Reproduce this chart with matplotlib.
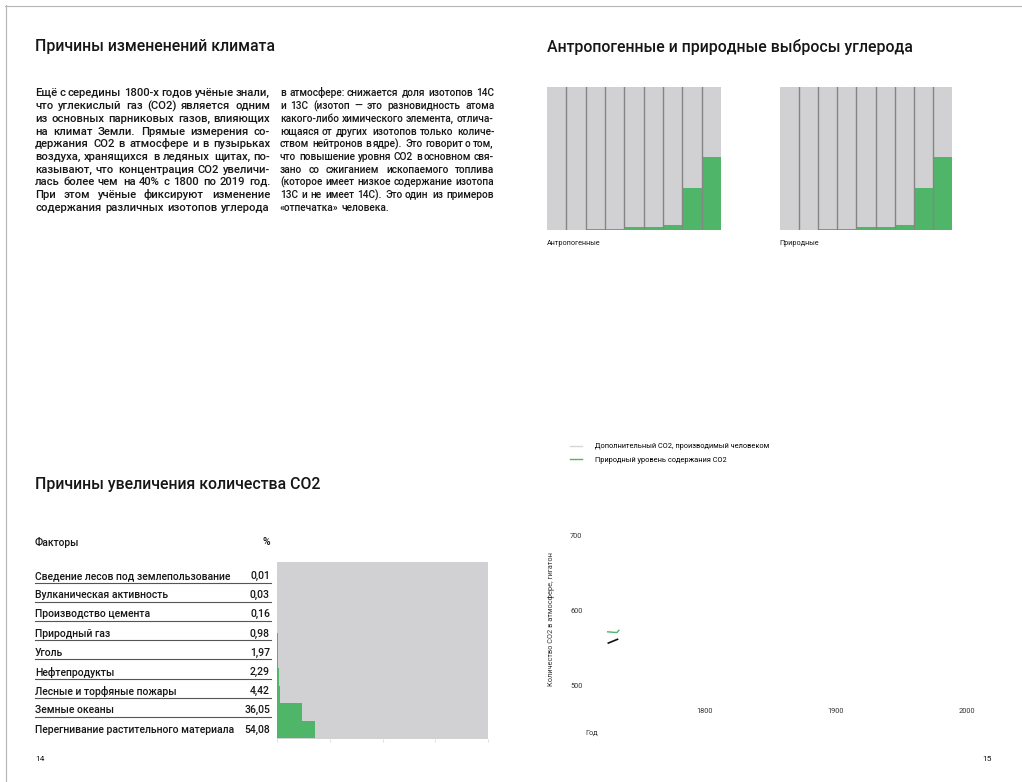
import math
import matplotlib
matplotlib.use("Agg")
import matplotlib.pyplot as plt
from matplotlib.lines import Line2D
from matplotlib.font_manager import FontProperties

# ---------------- data ----------------
title_left = "Причины измененений климата"
title_right = "Антропогенные и природные выбросы углерода"
title_bottom = "Причины увеличения количества CO2"

body_col1 = [
    "Ещё с середины 1800-х годов учёные знали,",
    "что углекислый газ (CO2) является одним",
    "из основных парниковых газов, влияющих",
    "на климат Земли. Прямые измерения со-",
    "держания CO2 в атмосфере и в пузырьках",
    "воздуха, хранящихся в ледяных щитах, по-",
    "казывают, что концентрация CO2 увеличи-",
    "лась более чем на 40% с 1800 по 2019 год.",
    "При этом учёные фиксируют изменение",
    "содержания различных изотопов углерода",
]
body_col2 = [
    "в атмосфере: снижается доля изотопов 14C",
    "и 13C (изотоп — это разновидность атома",
    "какого-либо химического элемента, отлича-",
    "ющаяся от других изотопов только количе-",
    "ством нейтронов в ядре). Это говорит о том,",
    "что повышение уровня CO2 в основном свя-",
    "зано со сжиганием ископаемого топлива",
    "(которое имеет низкое содержание изотопа",
    "13C и не имеет 14C). Это один из примеров",
    "«отпечатка» человека.",
]

emission_anthro = [0.2, 0.3, 0.6, 1.0, 1.9, 2.2, 3.6, 29.5, 51.0]
emission_natural = [0.2, 0.3, 0.6, 1.0, 1.9, 2.2, 3.6, 29.5, 51.0]
emission_full = 100
label_anthro = "Антропогенные"
label_natural = "Природные"

factors = [
    "Сведение лесов под землепользование",
    "Вулканическая активность",
    "Производство цемента",
    "Природный газ",
    "Уголь",
    "Нефтепродукты",
    "Лесные и торфяные пожары",
    "Земные океаны",
    "Перегнивание растительного материала",
]
factor_pct = [0.01, 0.03, 0.16, 0.98, 1.97, 2.29, 4.42, 36.05, 54.08]
factor_pct_labels = ["0,01", "0,03", "0,16", "0,98", "1,97", "2,29", "4,42", "36,05", "54,08"]
table_header = ["Факторы", "%"]
pct_ticks = [0, 75, 150, 225, 300]

co2_years_natural = [1726, 1733, 1734.5]
co2_natural = [571, 570, 573]
co2_years_black = [1726.5, 1733.5]
co2_black = [556, 561]
legend_labels = ["Дополнительный CO2, производимый человеком",
                 "Природный уровень содержания CO2"]
co2_xticks = [1800, 1900, 2000]
co2_yticks = [500, 600, 700]
co2_ylabel = "Количество CO2 в атмосфере, гигатон"
co2_xlabel = "Год"
page_numbers = ["14", "15"]

# ---------------- style ----------------
GREEN = "#4fb569"
GRAY = "#d1d1d3"
SEP = "#858585"
TXT = "#161616"
FONT = ["Roboto", "DejaVu Sans"]
plt.rcParams["font.family"] = FONT

W, H = 1022, 782
fig = plt.figure(figsize=(W / 100, H / 100), dpi=100)
fig.patch.set_facecolor("white")


def rect(x0, y0, x1, y1):
    return [x0 / W, 1 - y1 / H, (x1 - x0) / W, (y1 - y0) / H]


def fx(x):
    return x / W


def fy(y):
    return 1 - y / H


# page border (top and left)
fig.add_artist(Line2D([fx(5), fx(1022)], [fy(5.5), fy(5.5)], color="#b5b5b5", lw=0.8))
fig.add_artist(Line2D([fx(5.5), fx(5.5)], [fy(5), fy(782)], color="#b5b5b5", lw=0.8))

# titles
for t, x, y in [(title_left, 35, 47), (title_right, 547, 47), (title_bottom, 35, 484)]:
    fig.text(fx(x), fy(y), t, fontsize=11.4, color=TXT, va="center", ha="left",
             fontweight="medium")

# justified body text, one text per word
renderer = fig.canvas.get_renderer()


def word_metrics(word, size):
    prop = FontProperties(family=FONT, weight="medium", size=size)
    w, h, d = renderer.get_text_width_height_descent(word, prop, ismath=False)
    return w, h, d


def fit_size(lines, width, max_size):
    best = max_size
    for line in lines:
        words = line.split(" ")
        natural = sum(word_metrics(w, 10.0)[0] for w in words)
        natural += 0.22 * 10.0 * 100 / 72 * (len(words) - 1)
        best = min(best, 10.0 * width / natural)
    return best


def draw_lines(lines, x0, x1, y_start, dy, size, last_left=True):
    eps = 1e-6
    for i, line in enumerate(lines):
        base = round(y_start + i * dy) + 0.001
        words = line.split(" ")
        mets = [word_metrics(w, size) for w in words]
        widths = [m[0] for m in mets]
        is_last = (i == len(lines) - 1) and last_left
        if len(words) > 1 and not is_last:
            gap = (x1 - x0 - sum(widths)) / (len(words) - 1)
        else:
            gap = 0.28 * size * 100 / 72
        x = x0
        for word, (w, h, d) in zip(words, mets):
            # keep every word on the same pixel baseline
            k = math.floor(h + eps) - math.floor(h - d + eps)
            y = base + k - d
            fig.text(fx(round(x)), fy(y), word, fontsize=size, color=TXT, va="baseline",
                     ha="left", fontweight="medium")
            x += w + gap


size1 = fit_size(body_col1, 235, 8.2)
size2 = fit_size(body_col2, 214, 8.2)
draw_lines(body_col1, 35, 270, 96.5, 12.7, size1, last_left=False)
draw_lines(body_col2, 280, 494, 96.5, 12.7, size2, last_left=True)


# top-right bar charts
def emission_chart(box, values, label, lx):
    ax = fig.add_axes(rect(*box))
    n = len(values)
    xs = list(range(n))
    ax.bar(xs, [emission_full] * n, width=1.0, color=GRAY, linewidth=0, zorder=1)
    ax.bar(xs, values, width=1.0, color=GREEN, linewidth=0, zorder=2)
    for k in range(n - 1):
        ax.axvline(k + 0.5, color=SEP, lw=1.0, zorder=3)
    ax.set_xlim(-0.5, n - 0.5)
    ax.set_ylim(0, emission_full)
    ax.axis("off")
    fig.text(fx(lx), fy(243), label, fontsize=5.2, color=TXT, va="center", ha="left")


emission_chart((547, 87, 721, 230), emission_anthro, label_anthro, 547)
emission_chart((780, 87, 952, 230), emission_natural, label_natural, 779)

# table
fig.text(fx(35), fy(542), table_header[0], fontsize=7.4, color=TXT, va="center",
         fontweight="medium")
fig.text(fx(270), fy(542), table_header[1], fontsize=7.4, color=TXT, va="center", ha="right",
         fontweight="medium")
row_y0, row_dy = 576, 19.2
for i, (f, p) in enumerate(zip(factors, factor_pct_labels)):
    y = row_y0 + i * row_dy
    fig.text(fx(35), fy(y), f, fontsize=7.5, color=TXT, va="center", fontweight="medium")
    fig.text(fx(270), fy(y), p, fontsize=7.5, color=TXT, va="center", ha="right",
             fontweight="medium")
    if i < len(factors) - 1:
        yl = y + 6.5
        fig.add_artist(Line2D([fx(35), fx(271)], [fy(yl), fy(yl)], color="#555555", lw=0.8))

# horizontal bar chart
axb = fig.add_axes(rect(277, 562, 488, 739))
axb.set_facecolor(GRAY)
npos = len(factor_pct)
ypos = [npos - 1 - i for i in range(npos)]
axb.barh(ypos, factor_pct, height=1.0, color=GREEN, linewidth=0)
axb.set_xlim(pct_ticks[0], pct_ticks[-1])
axb.set_ylim(-0.56, 9.6)
axb.set_xticks(pct_ticks)
axb.set_xticklabels([])
axb.set_yticks([])
axb.tick_params(axis="x", length=2, color="#e2e2e2")
for s in axb.spines.values():
    s.set_visible(False)

# CO2 line chart
axc = fig.add_axes(rect(588, 440, 1000, 700))
axc.plot(co2_years_natural, co2_natural, color=GREEN, lw=1.0)
axc.plot(co2_years_black, co2_black, color="#111111", lw=1.2)
axc.set_xlim(1711, 2025)
axc.set_ylim(480, 827)
axc.set_xticks(co2_xticks)
axc.set_yticks(co2_yticks)
axc.tick_params(length=0, labelsize=5.3, labelcolor="#333333")
axc.tick_params(axis="x", pad=6)
axc.tick_params(axis="y", pad=4)
for s in axc.spines.values():
    s.set_visible(False)
axc.set_facecolor("none")
handles = [Line2D([], [], color="#d6d6d6", lw=1.0), Line2D([], [], color=GREEN, lw=1.0)]
fig.legend(handles, legend_labels, loc="upper left", bbox_to_anchor=(fx(569.5), fy(443)),
           frameon=False, fontsize=5.3, handlelength=1.75, handletextpad=1.75,
           labelspacing=0.85, borderpad=0, borderaxespad=0)
fig.text(fx(551), fy(619), co2_ylabel, fontsize=5.3, rotation=90, color="#333333",
         va="center", ha="center")
fig.text(fx(585), fy(733), co2_xlabel, fontsize=5.3, color="#333333", va="center", ha="left")

# page numbers
fig.text(fx(35), fy(759), page_numbers[0], fontsize=6, color=TXT, va="center")
fig.text(fx(992), fy(759), page_numbers[1], fontsize=6, color=TXT, va="center", ha="right")

fig.savefig("out.png", dpi=100, facecolor="white")
